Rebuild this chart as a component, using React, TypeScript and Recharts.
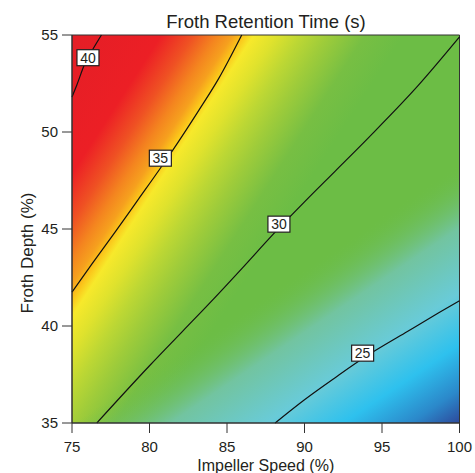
import React from "react";
import {
  ComposedChart,
  Line,
  Scatter,
  XAxis,
  YAxis,
  ReferenceArea,
  Label,
} from "recharts";

// contour lines: impeller speed (%) vs froth depth (%)
const speed40 = [75, 75.3, 75.82, 76.3, 76.9];
const depth40 = [51.8, 52.4, 53.5, 54.2, 55];

const speed35 = [75, 76.29, 77.79, 79.3, 80.7, 81.45, 83.17, 84.46, 85.95];
const depth35 = [41.75, 43.2, 44.85, 46.55, 48.13, 49.0, 51.1, 52.75, 55];

const speed30 = [76.6, 80, 82.1, 84.14, 86, 88, 90, 92, 94.12, 97.34, 100];
const depth30 = [35, 37.95, 39.7, 41.4, 43, 44.75, 46.4, 48, 49.7, 52.4, 54.9];

const speed25 = [88.1, 90, 92, 94, 96.5, 98.66, 100];
const depth25 = [35, 36.2, 37.35, 38.45, 39.65, 40.68, 41.3];

// where the level labels sit
const labelLevels = [40, 35, 30, 25];
const labelSpeed = [76.03, 80.7, 88.35, 93.75];
const labelDepth = [53.83, 48.65, 45.25, 38.6];

const speedTicks = [75, 80, 85, 90, 95, 100];
const depthTicks = [35, 40, 45, 50, 55];

const toPoints = (xs: number[], ys: number[]) => xs.map((x, i) => ({ x, y: ys[i] }));

const contours = [
  { level: 40, data: toPoints(speed40, depth40) },
  { level: 35, data: toPoints(speed35, depth35) },
  { level: 30, data: toPoints(speed30, depth30) },
  { level: 25, data: toPoints(speed25, depth25) },
];

const labelData = labelLevels.map((level, i) => ({
  x: labelSpeed[i],
  y: labelDepth[i],
  level,
}));

const FONT = "'Liberation Sans', Arial, sans-serif";
const INK = "#231f20";

const LevelBox = (props: any) => {
  const { cx, cy, payload } = props;
  return (
    <g>
      <rect x={cx - 11} y={cy - 8} width={22} height={16} fill="#fff" stroke={INK} strokeWidth={1.2} />
      <text x={cx} y={cy} dy="0.36em" textAnchor="middle" fontSize={14} fill={INK} fontFamily={FONT}>
        {payload.level}
      </text>
    </g>
  );
};

export default function App() {
  return (
    <div style={{ position: "relative", width: 475, height: 473, fontFamily: FONT }}>
      <style>{"body{margin:0}"}</style>
      <div
        style={{
          position: "absolute",
          top: 13,
          left: 72,
          width: 388,
          textAlign: "center",
          fontSize: 18.5,
          lineHeight: "18px",
          color: INK,
        }}
      >
        Froth Retention Time (s)
      </div>
      <ComposedChart
        width={475}
        height={473}
        margin={{ top: 35, right: 15.5, bottom: 0, left: 0 }}
        style={{ fontFamily: FONT }}
      >
        <defs>
          <linearGradient id="warm" x1="0" y1="0" x2="1.161" y2="0.751">
            <stop offset="0" stopColor="#e41e26" />
            <stop offset="0.14" stopColor="#ec1f25" />
            <stop offset="0.19" stopColor="#ef5123" />
            <stop offset="0.228" stopColor="#f4851f" />
            <stop offset="0.252" stopColor="#f6a01e" />
            <stop offset="0.268" stopColor="#fbc41a" />
            <stop offset="0.285" stopColor="#f7e92b" />
            <stop offset="0.32" stopColor="#dfe22d" />
            <stop offset="0.36" stopColor="#bcd734" />
            <stop offset="0.4" stopColor="#9fcc3a" />
            <stop offset="0.46" stopColor="#77bf43" />
            <stop offset="0.52" stopColor="#6cbd45" />
            <stop offset="1" stopColor="#6cbd45" />
          </linearGradient>
          <linearGradient id="cool" x1="0" y1="0" x2="0.776" y2="1.15">
            <stop offset="0" stopColor="#6cbd45" stopOpacity={0} />
            <stop offset="0.6" stopColor="#6cbd45" stopOpacity={0} />
            <stop offset="0.7" stopColor="#72c4a0" stopOpacity={1} />
            <stop offset="0.8" stopColor="#69cbd8" stopOpacity={1} />
            <stop offset="0.88" stopColor="#2ec1ee" stopOpacity={1} />
            <stop offset="0.95" stopColor="#2b88ca" stopOpacity={1} />
            <stop offset="1" stopColor="#2d4a9c" stopOpacity={1} />
          </linearGradient>
        </defs>
        <XAxis
          type="number"
          dataKey="x"
          domain={[75, 100]}
          ticks={speedTicks}
          height={50}
          tickSize={10}
          tickMargin={8}
          stroke="#333"
          tick={{ fill: INK, fontSize: 15 }}
        >
          <Label
            content={({ viewBox }: any) => (
              <text
                x={viewBox.x + viewBox.width / 2}
                y={viewBox.y + viewBox.height - 2.5}
                textAnchor="middle"
                fontSize={16}
                fill={INK}
                fontFamily={FONT}
              >
                Impeller Speed (%)
              </text>
            )}
          />
        </XAxis>
        <YAxis
          type="number"
          dataKey="y"
          domain={[35, 55]}
          ticks={depthTicks}
          width={72}
          tickSize={10}
          tickMargin={4}
          stroke="#333"
          tick={{ fill: INK, fontSize: 15 }}
        >
          <Label
            content={({ viewBox }: any) => {
              const x = 27;
              const y = viewBox.y + viewBox.height / 2 + 24;
              return (
                <text
                  x={x}
                  y={y}
                  transform={`rotate(-90 ${x} ${y})`}
                  dy="0.36em"
                  textAnchor="middle"
                  fontSize={17}
                  fill={INK}
                  fontFamily={FONT}
                >
                  Froth Depth (%)
                </text>
              );
            }}
          />
        </YAxis>
        <ReferenceArea x1={75} x2={100} y1={35} y2={55} fill="url(#warm)" fillOpacity={1} stroke="none" />
        <ReferenceArea x1={75} x2={100} y1={35} y2={55} fill="url(#cool)" fillOpacity={1} stroke="#333" strokeWidth={1} />
        {contours.map((c) => (
          <Line
            key={c.level}
            data={c.data}
            dataKey="y"
            type="monotone"
            stroke="#111"
            strokeWidth={1.2}
            dot={false}
            activeDot={false}
            isAnimationActive={false}
          />
        ))}
        <Scatter data={labelData} shape={LevelBox} isAnimationActive={false} />
      </ComposedChart>
    </div>
  );
}
